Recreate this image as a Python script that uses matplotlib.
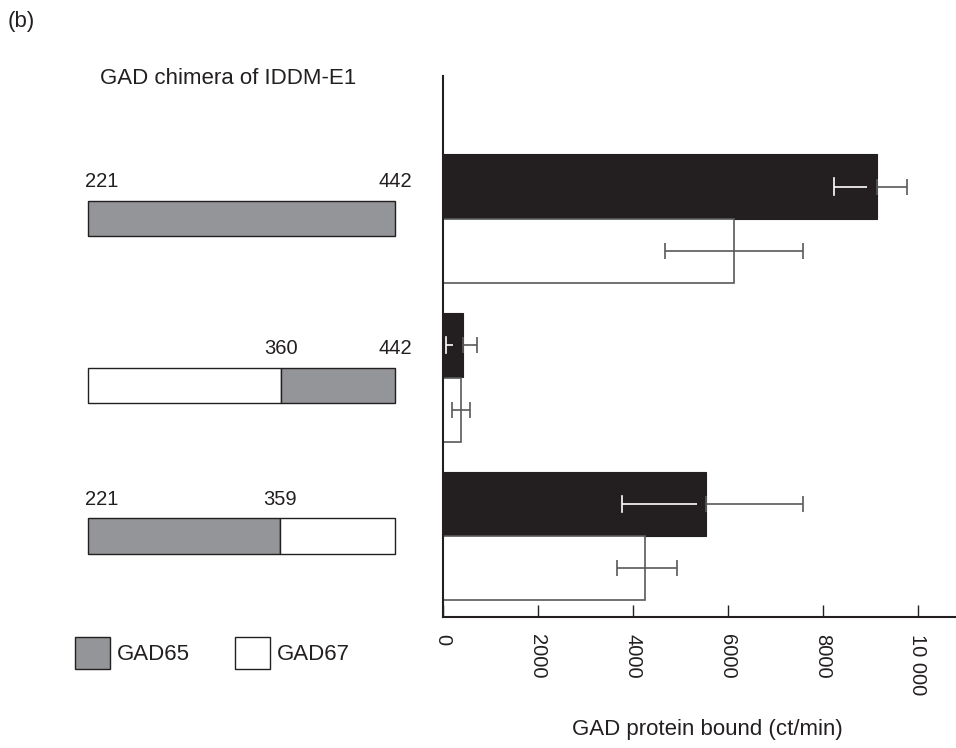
import numpy as np
import matplotlib; matplotlib.use("Agg")
import matplotlib.pyplot as plt
from matplotlib.patches import Patch

plt.rcParams['font.family'] = ['Liberation Sans', 'DejaVu Sans']

# ── data ──────────────────────────────────────────────────────────────────────
# chimera constructs: (start, end, kind) segments, kind 65 = GAD65, 67 = GAD67
chimeras = [
    [(221, 442, 65)],
    [(221, 360, 67), (360, 442, 65)],
    [(221, 359, 65), (359, 442, 67)],
]
# residue labels above each construct: (residue, text)
chim_labels = [
    [(221, "221"), (442, "442")],
    [(360, "360"), (442, "442")],
    [(221, "221"), (359, "359")],
]

# bound GAD (ct/min): black bars and white bars, with error-bar ends
black_val = [9140, 415, 5545]
black_lo  = [8250, 65, 3770]
black_hi  = [9775, 710, 7580]
white_val = [6125, 375, 4265]
white_lo  = [4685, 185, 3675]
white_hi  = [7580, 570, 4925]

xticks = [0, 2000, 4000, 6000, 8000, 10000]
xtick_labels = ["0", "2000", "4000", "6000", "8000", "10 000"]

# ── style ─────────────────────────────────────────────────────────────────────
DARK  = "#231f20"
GREY  = "#939598"
LINE  = "#58595b"
FS_TXT = 16
FS_NUM = 14.5

W, H = 956, 748
fig = plt.figure(figsize=(W/100, H/100), dpi=100)

def fx(px): return px / W
def fy(py): return 1 - py / H

ax_top, ax_bot = 76, 617
YLIM = (2.51, -0.90)

# ── right: bar chart ──────────────────────────────────────────────────────────
ax = fig.add_axes([fx(443), fy(ax_bot), fx(956) - fx(443), fy(ax_top) - fy(ax_bot)])
ys = np.arange(len(black_val))
bh, off = 0.405, 0.203

ax.barh(ys - off, black_val, height=bh, color=DARK, edgecolor=DARK, lw=0.8, zorder=2)
ax.barh(ys + off, white_val, height=bh, color="white", edgecolor=LINE, lw=1.2, zorder=2)

cap = 6
for y, v, lo, hi in zip(ys - off, black_val, black_lo, black_hi):
    # outside part of the error bar in grey
    ax.errorbar([v], [y], xerr=[[0], [hi - v]], fmt="none", ecolor=LINE,
                elinewidth=1.2, capsize=cap, capthick=1.2, zorder=3)
    # inside the black bar the line is white
    gap = 200
    ax.plot([lo, max(lo, v - gap)], [y, y], color="white", lw=1.2, zorder=3,
            solid_capstyle="butt")
    ax.plot([lo, lo], [y - 0.052, y + 0.052], color="white", lw=1.2, zorder=3)
for y, v, lo, hi in zip(ys + off, white_val, white_lo, white_hi):
    ax.errorbar([v], [y], xerr=[[v - lo], [hi - v]], fmt="none", ecolor=LINE,
                elinewidth=1.2, capsize=cap, capthick=1.2, zorder=3)

ax.set_ylim(*YLIM)
ax.set_xlim(0, 10811)
ax.set_yticks([])
ax.set_xticks(xticks)
ax.set_xticklabels(xtick_labels, rotation=-90, fontsize=FS_NUM, color=DARK)
ax.tick_params(axis="x", direction="in", length=9, width=1, color=DARK, pad=12)
for s in ["top", "right"]:
    ax.spines[s].set_visible(False)
for s in ["left", "bottom"]:
    ax.spines[s].set_linewidth(1.5)
    ax.spines[s].set_color(DARK)
ax.patch.set_alpha(0)
ax.set_xlabel("GAD protein bound (ct/min)", fontsize=FS_TXT, color=DARK)
ax.xaxis.set_label_coords((707 - 443) / (956 - 443), -0.188)

# ── left: chimera schematic ───────────────────────────────────────────────────
axm = fig.add_axes([0, fy(ax_bot), fx(440), fy(ax_top) - fy(ax_bot)])
axm.set_xlim(157.6, 474.4)
axm.set_ylim(*YLIM)
axm.axis("off")
row_y = [0, 1.05, 2]
sh = 0.222
lab_off = sh / 2 + 0.088
for y, segs, labs in zip(row_y, chimeras, chim_labels):
    for a, b, kind in segs:
        axm.barh(y, b - a, left=a, height=sh, color=GREY if kind == 65 else "white",
                 edgecolor=DARK, lw=1.0)
    for r, t in labs:
        ha = "left" if r == 221 else "center"
        xr = r - 2 if r == 221 else r
        axm.text(xr, y - lab_off, t, ha=ha, va="baseline", fontsize=FS_NUM, color=DARK)

fig.text(fx(100), fy(78), "GAD chimera of IDDM-E1", fontsize=FS_TXT, color=DARK,
         ha="left", va="center")
fig.text(fx(8), fy(22), "(b)", fontsize=16, color=DARK, ha="left", va="center")

# legend
handles = [Patch(facecolor=GREY, edgecolor=DARK, lw=1.0, label="GAD65"),
           Patch(facecolor="white", edgecolor=DARK, lw=1.0, label="GAD67")]
fig.legend(handles=handles, loc="upper left", bbox_to_anchor=(fx(75), fy(637)),
           ncol=2, frameon=False, fontsize=FS_TXT, borderpad=0, borderaxespad=0,
           handlelength=1.58, handleheight=1.85, handletextpad=0.32,
           columnspacing=2.0, labelcolor=DARK)

fig.savefig("out.png", dpi=100)
